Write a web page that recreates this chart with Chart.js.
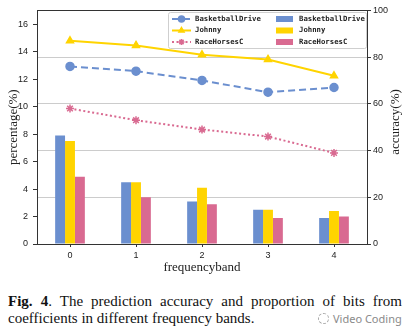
<!DOCTYPE html>
<html>
<head>
<meta charset="utf-8">
<script src="https://cdn.jsdelivr.net/npm/chart.js@4/dist/chart.umd.min.js"></script>
<style>
  html, body { margin: 0; padding: 0; background: #fff; }
  body { width: 411px; height: 334px; position: relative; overflow: hidden; }
  #wrap { position: absolute; left: 0; top: 0; width: 411px; height: 275px; }
  #caption {
    position: absolute; left: 8px; top: 293px; width: 394px;
    font-family: "Liberation Serif", "Times New Roman", serif;
    font-size: 15px; line-height: 17px; color: #111;
  }
  #caption .l1 { text-align: justify; text-align-last: justify; white-space: nowrap; }
  #mark {
    position: absolute; left: 318px; top: 311px;
    font-family: "Noto Sans", "DejaVu Sans", sans-serif; font-size: 11px; color: #8a8a8a;
  }
  #mark .ico {
    display: inline-block; width: 9px; height: 9px; border: 1px dashed #aaa;
    border-radius: 50%; vertical-align: -1px; margin-right: 4px;
  }
</style>
</head>
<body>
<div id="wrap"><canvas id="c"></canvas></div>
<div id="caption">
  <div class="l1"><b>Fig. 4</b>. The prediction accuracy and proportion of bits from</div>
  <div>coefficients in different frequency bands.</div>
</div>
<div id="mark"><span class="ico"></span>Video Coding</div>
<script>
// frequency bands on the x axis
const bands = ['0', '1', '2', '3', '4'];
const seqNames = ['BasketballDrive', 'Johnny', 'RaceHorsesC'];

// proportion of bits per band (%), left axis
const bitsBasketball = [7.9, 4.5, 3.1, 2.5, 1.9];
const bitsJohnny     = [7.5, 4.5, 4.1, 2.5, 2.4];
const bitsRace       = [4.9, 3.4, 2.9, 1.9, 2.0];

// prediction accuracy per band (%), right axis
const accBasketball = [76, 74, 70, 65, 67];
const accJohnny     = [87, 85, 81, 79, 72];
const accRace       = [58, 53, 49, 46, 39];

const leftTicksMax = 17;
const rightTicksMax = 100;

const BLUE = '#6b8fcf', YELLOW = '#ffd400', PINK = '#d96a91';
const SERIF = '"Liberation Serif", "Times New Roman", serif';
const SANS = '"Liberation Sans", Arial, sans-serif';
const MONO = '"DejaVu Sans Mono", monospace';

// frame around the plot, right-axis title and the two-column legend
const decor = {
  id: 'decor',
  afterDraw(chart) {
    const ctx = chart.ctx, a = chart.chartArea;
    ctx.save();
    ctx.strokeStyle = '#333';
    ctx.lineWidth = 1;
    ctx.strokeRect(Math.round(a.left) + 0.5, Math.round(a.top) + 0.5,
                   Math.round(a.right - a.left), Math.round(a.bottom - a.top));

    // right axis title, reading bottom to top
    ctx.translate(396, 122);
    ctx.rotate(-Math.PI / 2);
    ctx.font = '13px ' + SERIF;
    ctx.fillStyle = '#222';
    ctx.textAlign = 'center';
    ctx.textBaseline = 'middle';
    ctx.fillText(chart.options.scales.y1.titleText, 0, 0);
    ctx.restore();

    // legend box
    const bx = 168, by = 12, bw = 198, bh = 36;
    ctx.save();
    ctx.fillStyle = 'rgba(255,255,255,0.9)';
    ctx.strokeStyle = '#cfcfcf';
    ctx.lineWidth = 1;
    ctx.beginPath();
    ctx.roundRect(bx + 0.5, by + 0.5, bw, bh, 2);
    ctx.fill();
    ctx.stroke();
    ctx.font = 'bold 7.3px ' + MONO;
    ctx.textBaseline = 'middle';
    ctx.textAlign = 'left';
    let li = 0, bi = 0;
    chart.data.datasets.forEach(ds => {
      if (ds.type === 'line') {
        const y = by + 7 + li * 11.5;
        ctx.save();
        ctx.strokeStyle = ds.borderColor;
        ctx.fillStyle = ds.borderColor;
        ctx.lineWidth = ds.borderWidth;
        ctx.setLineDash(ds.borderDash || []);
        ctx.beginPath();
        ctx.moveTo(172, y);
        ctx.lineTo(191, y);
        ctx.stroke();
        ctx.setLineDash([]);
        ctx.lineWidth = 1.5;
        Chart.helpers.drawPoint(ctx, {
          pointStyle: ds.pointStyle, radius: 3, borderWidth: 1.5, rotation: 0
        }, 181.5, y);
        ctx.restore();
        ctx.fillStyle = '#222';
        ctx.fillText(ds.label, 195, y);
        li++;
      } else {
        const y = by + 7 + bi * 11.5;
        ctx.fillStyle = ds.backgroundColor;
        ctx.fillRect(276, y - 3, 17, 6);
        ctx.fillStyle = '#222';
        ctx.fillText(ds.label, 299, y);
        bi++;
      }
    });
    ctx.restore();
  }
};

function lineSet(label, data, color, style, dash) {
  return {
    type: 'line', label, data, yAxisID: 'y1', order: 0,
    borderColor: color, backgroundColor: color, borderWidth: 2,
    borderDash: dash, pointStyle: style, pointRadius: 4,
    pointBackgroundColor: color, pointBorderColor: color, pointBorderWidth: 1.5,
    tension: 0
  };
}
function barSet(label, data, color) {
  return {
    type: 'bar', label, data, yAxisID: 'y', order: 1,
    backgroundColor: color, borderWidth: 0,
    categoryPercentage: 0.45, barPercentage: 1.0
  };
}

new Chart(document.getElementById('c'), {
  data: {
    labels: bands,
    datasets: [
      lineSet(seqNames[0], accBasketball, BLUE, 'circle', [7, 4]),
      lineSet(seqNames[1], accJohnny, YELLOW, 'triangle', []),
      lineSet(seqNames[2], accRace, PINK, 'star', [2, 2.5]),
      barSet(seqNames[0], bitsBasketball, BLUE),
      barSet(seqNames[1], bitsJohnny, YELLOW),
      barSet(seqNames[2], bitsRace, PINK)
    ]
  },
  options: {
    responsive: true,
    maintainAspectRatio: false,
    animation: false,
    layout: { padding: { top: 10, left: 0, right: 0, bottom: 0 } },
    plugins: { legend: { display: false }, tooltip: { enabled: false } },
    scales: {
      x: {
        offset: true,
        border: { display: false },
        grid: { display: true, drawOnChartArea: false, drawTicks: true, tickLength: 3,
                offset: false, tickColor: '#333' },
        ticks: { color: '#222', font: { family: SANS, size: 9 }, padding: 3 },
        title: { display: true, text: 'frequencyband', color: '#222',
                 font: { family: SERIF, size: 13 }, padding: { top: 2, bottom: 0 } },
        afterFit(s) { s.height = 31; }
      },
      y: {
        position: 'left', min: 0, max: leftTicksMax,
        border: { display: false },
        grid: { drawOnChartArea: false, drawTicks: true, tickLength: 4, tickColor: '#333' },
        ticks: { stepSize: 2, color: '#222', font: { family: SANS, size: 9 }, padding: 5 },
        afterBuildTicks(s) { s.ticks = s.ticks.filter(t => t.value % 2 === 0); },
        title: { display: true, text: 'percentage(%)', color: '#222',
                 font: { family: SERIF, size: 13 }, padding: { top: 6, bottom: 0 } },
        afterFit(s) { s.width = 37; }
      },
      y1: {
        position: 'right', min: 0, max: rightTicksMax,
        titleText: 'accuracy(%)',
        border: { display: false },
        grid: { drawOnChartArea: true, color: '#cccccc', lineWidth: 1,
                drawTicks: true, tickLength: 4, tickColor: '#333' },
        ticks: { stepSize: 20, color: '#222', font: { family: SANS, size: 9 }, padding: 2 },
        afterFit(s) { s.width = 44; }
      }
    }
  },
  plugins: [decor]
});
</script>
</body>
</html>
